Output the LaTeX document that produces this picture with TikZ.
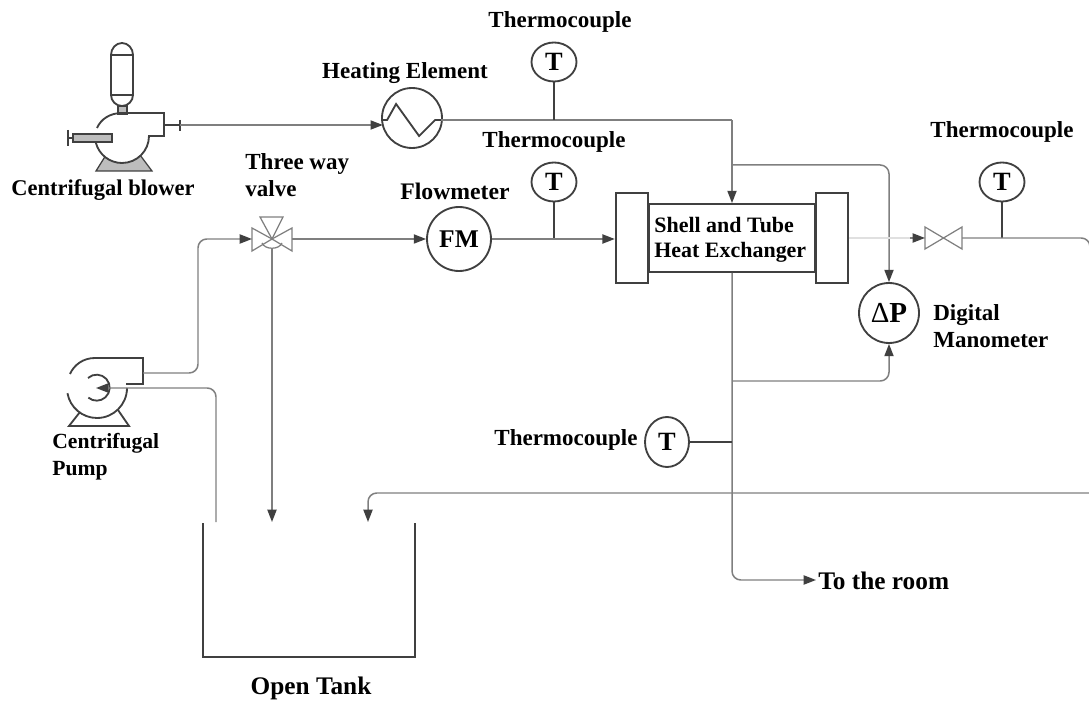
\documentclass[tikz,border=0pt]{standalone}
\usepackage{fontspec}
\setmainfont{Liberation Serif}
\usetikzlibrary{arrows.meta,shapes.geometric}
\definecolor{pipegray}{HTML}{7F7F7F}
\definecolor{symdark}{HTML}{404040}
\definecolor{bodygray}{HTML}{BDBDBD}
\tikzset{
  pipe/.style={draw=pipegray,line width=0.85pt,rounded corners=5pt},
  faintpipe/.style={draw=black!12,line width=0.85pt},
  sym/.style={draw=symdark,line width=1.05pt},
  thin sym/.style={draw=pipegray,line width=0.7pt},
  stem/.style={draw=symdark,line width=1.05pt},
  tip/.style={-{Triangle[length=7pt,width=5.2pt,color=symdark]}},
  lbl/.style={font=\fontsize{13.1}{14.2}\selectfont\bfseries,align=left,inner sep=0pt},
  big lbl/.style={lbl,font=\fontsize{14.4}{16}\selectfont\bfseries},
  gauge/.style={sym,ellipse,inner sep=0pt,font=\fontsize{15}{17}\selectfont\bfseries,fill=white},
  tgauge/.style={gauge,minimum width=0.9cm,minimum height=0.78cm},
  flange/.style={sym,rectangle,minimum width=0.64cm,minimum height=1.8cm},
}
\begin{document}
\begin{tikzpicture}[x=0.02cm,y=-0.02cm]
\useasboundingbox (0,0) rectangle (1089,702);
%%%%%%%%%%%%%%%%%%%%%%%%%%%%%%%%
%% labels
%%%%%%%%%%%%%%%%%%%%%%%%%%%%%%%%
\node[lbl] (lblTa) at (560,22) {Thermocouple};
\node[lbl] (lblHeat) at (405,73) {Heating Element};
\node[lbl] (lblTb) at (554,142) {Thermocouple};
\node[lbl,font=\fontsize{13.5}{15}\selectfont\bfseries] (lblFlow) at (455,191) {Flowmeter};
\node[lbl] (lblTc) at (1002,132) {Thermocouple};
\node[lbl] (lblTd) at (566,440) {Thermocouple};
\node[lbl,font=\fontsize{12.8}{14.2}\selectfont\bfseries] (lblBlower) at (103,190) {Centrifugal blower};
\node[lbl,anchor=west] (lblValve) at (245,175) {Three way\\[1pt]valve};
\node[lbl,anchor=west,font=\fontsize{12.3}{14.2}\selectfont\bfseries] (lblPump) at (52,457) {Centrifugal\\[1pt]Pump};
\node[lbl,anchor=west] (lblMano) at (933,326) {Digital\\[1pt]Manometer};
\node[big lbl] (lblTank) at (311,688) {Open Tank};
\node[big lbl,anchor=west] (lblRoom) at (818,581) {To the room};
\node[lbl,font=\fontsize{12.5}{14.2}\selectfont\bfseries,anchor=west] (lblShell) at (654,240) {Shell and Tube\\Heat Exchanger};
%%%%%%%%%%%%%%%%%%%%%%%%%%%%%%%%
%% instruments
%%%%%%%%%%%%%%%%%%%%%%%%%%%%%%%%
\node[tgauge] (ta) at (554,62) {T};
\node[tgauge] (tb) at (554,182) {T};
\node[tgauge] (tc) at (1002,182) {T};
\node[tgauge,minimum width=0.88cm,minimum height=1cm] (td) at (667,442) {T};
\node[gauge,circle,minimum size=1.28cm,font=\fontsize{14.5}{17}\selectfont\bfseries] (fm) at (459,239) {FM};
\node[gauge,circle,minimum size=1.2cm,font=\fontsize{16.5}{18}\selectfont\bfseries] (dp) at (889,313) {{\normalfont Δ}P};
\node[sym,circle,minimum size=1.2cm,inner sep=0pt] (heat) at (412,118) {};
%
\draw[sym] (heat.west) ++(0,2) -- ++(6,0) -- ++(9,-16) -- ++(23,32) -- ++(16,-16) -- ++(6,0);
%%%%%%%%%%%%%%%%%%%%%%%%%%%%%%%%
%% heat exchanger
%%%%%%%%%%%%%%%%%%%%%%%%%%%%%%%%
\node[sym,rectangle,minimum width=3.3cm,minimum height=1.36cm,inner sep=0pt] (shell) at (732,238) {};
\node[flange,fill=white,anchor=east] (flangeL) at (shell.west) {};
\node[flange,fill=white,anchor=west] (flangeR) at (shell.east) {};
%%%%%%%%%%%%%%%%%%%%%%%%%%%%%%%%
%% blower
%%%%%%%%%%%%%%%%%%%%%%%%%%%%%%%%
\filldraw[fill=bodygray,draw=symdark,line width=0.7pt] (96,171) -- (152,171) -- (140,155) -- (106,155) -- cycle;
\fill[white] (122,136) circle[radius=27];
\draw[sym] (111,55) arc[start angle=180,end angle=360,x radius=11,y radius=12]
  -- (133,95) .. controls (133,101) and (128,106) .. (122,106) .. controls (116,106) and (111,101) .. (111,95) -- cycle;
\draw[sym] (111,55) -- (133,55) (111,95) -- (133,95);
\filldraw[fill=bodygray,draw=symdark,line width=0.9pt] (118,106) rectangle (127,114);
\draw[sym] (97,128) .. controls (101,119) and (110,113) .. (122,113) -- (164,113) -- (164,136) -- (148,136);
\draw[sym] (149,136) arc[start angle=0,end angle=165,radius=27];
\filldraw[fill=bodygray,draw=symdark,line width=0.9pt] (73,134) rectangle (112,142);
\draw[sym] (68,130) -- (68,146) (68,138) -- (73,138);
\draw[sym] (164,125) -- (180,125) (180,120) -- (180,131);
\coordinate (blowerOut) at (180,125);
%%%%%%%%%%%%%%%%%%%%%%%%%%%%%%%%
%% pump
%%%%%%%%%%%%%%%%%%%%%%%%%%%%%%%%
\draw[sym] (70,374) .. controls (74,365) and (83,358) .. (95,358) -- (143,358) -- (143,384) -- (126,384);
\draw[sym] (127,388) arc[start angle=0,end angle=170,radius=30];
\draw[sym] (88,378) arc[start angle=228,end angle=490,radius=13];
\draw[sym] (80,412) -- (69,426) -- (129,426) -- (118,410);
\coordinate (pumpOut) at (143,373);
\coordinate (pumpIn) at (96,388);
%%%%%%%%%%%%%%%%%%%%%%%%%%%%%%%%
%% valves
%%%%%%%%%%%%%%%%%%%%%%%%%%%%%%%%
\coordinate (vthree) at (272,239);
\draw[thin sym] (vthree) -- (252,228) -- (252,251) -- cycle;
\draw[thin sym] (vthree) -- (292,228) -- (292,251) -- cycle;
\draw[thin sym] (vthree) -- (260,217) -- (283,217) -- cycle;
\draw[thin sym] (262,243) .. controls (265,250) and (279,250) .. (282,243);
\coordinate (vthreeIn) at (252,239);
\coordinate (vthreeOut) at (292,239);
\coordinate (vthreeDown) at (272,248);
%
\coordinate (vtwo) at (943.5,238);
\draw[thin sym] (vtwo) -- (925,227) -- (925,249) -- cycle;
\draw[thin sym] (vtwo) -- (962,227) -- (962,249) -- cycle;
\coordinate (vtwoIn) at (925,238);
\coordinate (vtwoOut) at (962,238);
%%%%%%%%%%%%%%%%%%%%%%%%%%%%%%%%
%% tank
%%%%%%%%%%%%%%%%%%%%%%%%%%%%%%%%
\draw[sym,line width=0.95pt] (203,523) -- (203,657) -- (415,657) -- (415,523);
%%%%%%%%%%%%%%%%%%%%%%%%%%%%%%%%
%% air line
%%%%%%%%%%%%%%%%%%%%%%%%%%%%%%%%
\coordinate (heatIn) at (382.8,125);
\coordinate (heatOut) at (441,120);
\coordinate (jair) at (732,120);
\coordinate (jtapTop) at (732,165);
\coordinate (jtapBot) at (732,381);
\coordinate (jta) at (554,120);
\coordinate (jtb) at (554,239);
\coordinate (jtc) at (1002,238);
\coordinate (jtd) at (732,442);
\coordinate (roomEnd) at (816,580);
\draw[pipe,tip] (blowerOut) -- (heatIn);
\draw[pipe] (heatOut) -- (jair);
\draw[pipe,tip] (jair) -- (shell.north -| jair);
\draw[pipe,tip] (jtapTop) -- (dp.north |- jtapTop) -- (dp.north);
\draw[pipe,tip] (jtapBot) -- (dp.south |- jtapBot) -- (dp.south);
\draw[pipe,tip] (shell.south -| jair) -- (jair |- roomEnd) -- (roomEnd);
\draw[stem] (ta) -- (jta);
\draw[stem] (tb) -- (jtb);
\draw[stem] (tc) -- (jtc);
\draw[stem] (td) -- (jtd);
%%%%%%%%%%%%%%%%%%%%%%%%%%%%%%%%
%% water line
%%%%%%%%%%%%%%%%%%%%%%%%%%%%%%%%
\coordinate (pumpDrop) at (216,522);
\coordinate (tankMid) at (272,522);
\coordinate (tankRight) at (368,522);
\coordinate (edgeTop) at (1090,238);
\coordinate (edgeBot) at (1090,493);
\coordinate (vtwoTail) at (910,238);
\draw[pipe,tip] (pumpOut) -- (198,373) -- (198,239) -- (vthreeIn);
\draw[pipe,tip] (pumpDrop) -- (216,388) -- (pumpIn);
\draw[pipe,tip] (vthreeOut) -- (fm.west);
\draw[pipe,tip] (fm.east) -- (fm.east -| flangeL.west);
\draw[pipe,tip] (vthreeDown) -- (tankMid);
\draw[faintpipe] (flangeR.east) -- (vtwoTail);
\draw[pipe,tip] (vtwoTail) -- (vtwoIn);
\draw[pipe] (vtwoOut) -- (edgeTop) -- (edgeBot);
\draw[pipe,tip] (edgeBot) -- (tankRight |- edgeBot) -- (tankRight);
\end{tikzpicture}
\end{document}
